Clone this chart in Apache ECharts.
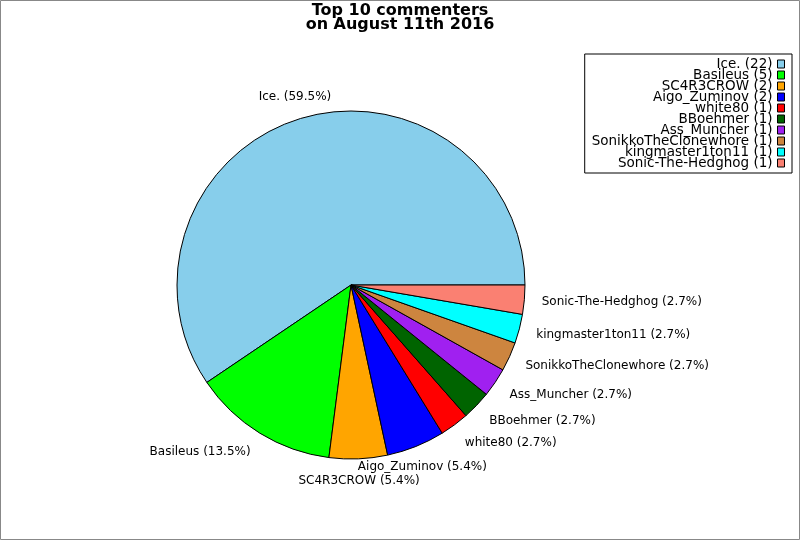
<!DOCTYPE html>
<html>
<head>
<meta charset="utf-8">
<style>
  html, body { margin: 0; padding: 0; background: #fff; }
  #chart { width: 800px; height: 540px; }
</style>
<script src="https://cdn.jsdelivr.net/npm/echarts@6/dist/echarts.min.js"></script>
</head>
<body>
<div id="chart"></div>
<script>
// commenters and their comment counts
const names = ['Ice.', 'Basileus', 'SC4R3CROW', 'Aigo_Zuminov', 'white80', 'BBoehmer',
  'Ass_Muncher', 'SonikkoTheClonewhore', 'kingmaster1ton11', 'Sonic-The-Hedghog']
const counts = [22, 5, 2, 2, 1, 1, 1, 1, 1, 1]
const colors = ['#87ceeb', '#00ff00', '#ffa500', '#0000ff', '#ff0000', '#006400',
  '#a020f0', '#cd853f', '#00ffff', '#fa8072']

const total = counts.reduce((a, b) => a + b, 0)
// mid angle of each slice (degrees, counter-clockwise from 3 o'clock)
const midAngles = []
let acc = 0
counts.forEach(v => {
  midAngles.push(360 * (acc + v / 2) / total)
  acc += v
})

const R = 174
const font = 'DejaVu Sans'

const chart = echarts.init(document.getElementById('chart'))
chart.setOption({
  animation: false,
  backgroundColor: '#fff',
  color: colors,
  title: {
    text: 'Top 10 commenters\non August 11th 2016',
    left: 'center',
    top: 4.5,
    padding: 0,
    textStyle: { fontFamily: font, fontSize: 16, fontWeight: 'bold', color: '#000', lineHeight: 13.5 }
  },
  legend: {
    orient: 'vertical',
    right: 8,
    top: 54,
    align: 'right',
    padding: [3, 7, 3, 7],
    itemGap: -3,
    itemWidth: 7,
    itemHeight: 8,
    icon: 'rect',
    borderColor: '#000',
    borderWidth: 1,
    borderRadius: 0,
    backgroundColor: '#fff',
    selectedMode: false,
    itemStyle: { borderColor: '#000', borderWidth: 1 },
    textStyle: { fontFamily: font, fontSize: 13.5, color: '#000' },
    formatter: name => name + ' (' + counts[names.indexOf(name)] + ')',
    data: names
  },
  graphic: [{
    type: 'rect',
    shape: { x: 0.5, y: 0.5, width: 799, height: 539 },
    style: { fill: 'none', stroke: '#888', lineWidth: 1 },
    silent: true
  }],
  series: [{
    type: 'pie',
    center: [351, 285],
    radius: R,
    startAngle: 0,
    clockwise: false,
    percentPrecision: 1,
    avoidLabelOverlap: false,
    minShowLabelAngle: 0,
    itemStyle: { borderColor: '#000', borderWidth: 1 },
    emphasis: { disabled: true },
    label: {
      show: true,
      position: 'outside',
      formatter: '{b} ({d}%)',
      fontFamily: font,
      fontSize: 12,
      color: '#000',
      distanceToLabelLine: 0
    },
    labelLine: { show: false, length: R * 0.1, length2: 0 },
    labelLayout: function (p) {
      const a = midAngles[p.dataIndex] * Math.PI / 180
      const c = Math.cos(a), s = Math.sin(a)
      return {
        align: Math.abs(c) < 0.45 ? 'center' : (c > 0 ? 'left' : 'right'),
        verticalAlign: 'middle',
        dy: -s * 5
      }
    },
    data: names.map((n, i) => ({ name: n, value: counts[i] }))
  }]
})
</script>
</body>
</html>
